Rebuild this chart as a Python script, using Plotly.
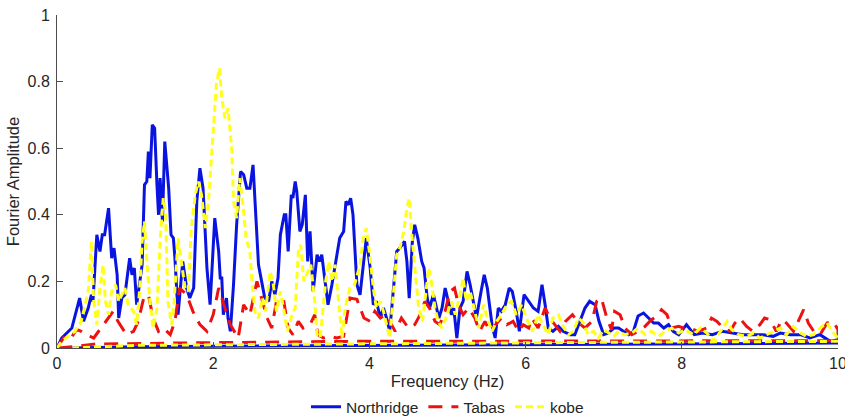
import plotly.graph_objects as go

# ---------------- data ----------------
north_f = [0, 0.06, 0.19, 0.29, 0.34, 0.40, 0.44, 0.46, 0.51, 0.55, 0.58, 0.61, 0.66, 0.70, 0.73, 0.77, 0.79,
           0.83, 0.87, 0.93, 0.96, 0.99, 1.02, 1.06, 1.09, 1.12, 1.15, 1.17, 1.19, 1.22, 1.25, 1.28, 1.30, 1.32,
           1.35, 1.38, 1.43, 1.46, 1.49, 1.51, 1.55, 1.58, 1.61, 1.66, 1.70, 1.75, 1.79, 1.83, 1.87, 1.92, 1.96,
           2.02, 2.07, 2.09, 2.11, 2.13, 2.17, 2.19, 2.22, 2.26, 2.30, 2.35, 2.39, 2.43, 2.47, 2.51, 2.55, 2.58,
           2.62, 2.66, 2.71, 2.75, 2.79, 2.83, 2.86, 2.91, 2.93, 2.96, 3.00, 3.02, 3.05, 3.07, 3.11, 3.14, 3.18,
           3.21, 3.24, 3.28, 3.33, 3.36, 3.39, 3.43, 3.47, 3.52, 3.57, 3.62, 3.67, 3.70, 3.73, 3.76, 3.79, 3.84,
           3.88, 3.93, 3.96, 4.01, 4.05, 4.09, 4.14, 4.18, 4.22, 4.26, 4.31, 4.35, 4.39, 4.45, 4.48, 4.51, 4.55,
           4.58, 4.62, 4.67, 4.70, 4.74, 4.77, 4.82, 4.86, 4.89, 4.93, 4.97, 5.01, 5.05, 5.08, 5.12, 5.16, 5.20,
           5.25, 5.29, 5.33, 5.37, 5.43, 5.47, 5.51, 5.57, 5.61, 5.65, 5.69, 5.74, 5.79, 5.83, 5.88, 5.92, 5.98,
           6.04, 6.10, 6.16, 6.21, 6.25, 6.29, 6.35, 6.42, 6.48, 6.57, 6.63, 6.70, 6.76, 6.82, 6.89, 6.94, 7.00,
           7.06, 7.13, 7.19, 7.26, 7.32, 7.38, 7.44, 7.51, 7.57, 7.64, 7.70, 7.77, 7.83, 7.89, 7.96, 8.06, 8.16,
           8.27, 8.39, 8.52, 8.65, 8.78, 8.91, 9.04, 9.17, 9.26, 9.39, 9.52, 9.64, 9.77, 9.90, 10.0]
north_a = [0, 0.03, 0.06, 0.15, 0.08, 0.12, 0.16, 0.14, 0.34, 0.29, 0.34, 0.34, 0.42, 0.27, 0.30, 0.22, 0.09,
           0.15, 0.16, 0.27, 0.22, 0.24, 0.13, 0.20, 0.25, 0.49, 0.50, 0.59, 0.51, 0.67, 0.66, 0.49, 0.40, 0.51,
           0.38, 0.62, 0.48, 0.34, 0.33, 0.27, 0.10, 0.18, 0.26, 0.18, 0.15, 0.18, 0.44, 0.54, 0.48, 0.24, 0.13,
           0.39, 0.29, 0.21, 0.21, 0.10, 0.15, 0.09, 0.05, 0.19, 0.37, 0.53, 0.52, 0.48, 0.48, 0.55, 0.36, 0.25,
           0.20, 0.15, 0.14, 0.20, 0.16, 0.21, 0.34, 0.40, 0.40, 0.29, 0.46, 0.45, 0.50, 0.47, 0.35, 0.37, 0.46,
           0.26, 0.35, 0.17, 0.28, 0.26, 0.28, 0.20, 0.13, 0.19, 0.26, 0.33, 0.35, 0.44, 0.43, 0.45, 0.40, 0.19,
           0.16, 0.27, 0.33, 0.24, 0.13, 0.14, 0.09, 0.12, 0.09, 0.05, 0.19, 0.29, 0.30, 0.32, 0.26, 0.15, 0.32,
           0.37, 0.33, 0.26, 0.24, 0.15, 0.12, 0.16, 0.12, 0.09, 0.12, 0.18, 0.14, 0.10, 0.12, 0.03, 0.12, 0.14,
           0.23, 0.19, 0.14, 0.09, 0.17, 0.22, 0.18, 0.07, 0.03, 0.12, 0.11, 0.13, 0.18, 0.17, 0.11, 0.05, 0.16,
           0.14, 0.12, 0.11, 0.19, 0.13, 0.06, 0.05, 0.065, 0.05, 0.04, 0.04, 0.08, 0.12, 0.14, 0.13, 0.08, 0.04,
           0.045, 0.06, 0.06, 0.05, 0.04, 0.05, 0.096, 0.105, 0.09, 0.075, 0.075, 0.06, 0.07, 0.05, 0.04, 0.07, 0.04,
           0.045, 0.04, 0.05, 0.045, 0.04, 0.04, 0.04, 0.035, 0.045, 0.04, 0.04, 0.03, 0.04, 0.02, 0.025]
north_ret_f = [10.0, 7.0, 4.0, 1.0, 0.2]
north_ret_a = [0.015, 0.012, 0.007, 0.004, 0.0]

tabas_f = [0, 0.10, 0.18, 0.25, 0.31, 0.38, 0.47, 0.55, 0.64, 0.72, 0.78, 0.89, 0.98, 1.04, 1.11, 1.17, 1.23,
           1.30, 1.36, 1.45, 1.51, 1.57, 1.66, 1.74, 1.83, 1.92, 2.00, 2.07, 2.15, 2.22, 2.32, 2.39, 2.47, 2.56,
           2.62, 2.69, 2.75, 2.81, 2.90, 2.96, 3.02, 3.09, 3.15, 3.24, 3.30, 3.34, 3.41, 3.50, 3.58, 3.67, 3.75,
           3.84, 3.93, 4.01, 4.07, 4.14, 4.20, 4.26, 4.33, 4.41, 4.50, 4.58, 4.65, 4.71, 4.77, 4.84, 4.90, 4.97,
           5.03, 5.09, 5.14, 5.20, 5.27, 5.35, 5.41, 5.48, 5.54, 5.61, 5.69, 5.76, 5.84, 5.91, 5.97, 6.04, 6.08,
           6.16, 6.25, 6.31, 6.38, 6.44, 6.51, 6.60, 6.68, 6.76, 6.85, 6.91, 6.97, 7.04, 7.10, 7.14, 7.21, 7.27,
           7.36, 7.44, 7.53, 7.61, 7.68, 7.74, 7.81, 7.87, 7.96, 8.02, 8.10, 8.21, 8.32, 8.38, 8.45, 8.53, 8.62,
           8.68, 8.74, 8.83, 8.91, 9.00, 9.06, 9.13, 9.21, 9.28, 9.34, 9.43, 9.51, 9.56, 9.62, 9.69, 9.77, 9.86,
           9.94, 10.0]
tabas_a = [0, 0.036, 0.03, 0.056, 0.05, 0.04, 0.03, 0.056, 0.086, 0.11, 0.08, 0.04, 0.05, 0.08, 0.15, 0.16, 0.09,
           0.05, 0.06, 0.04, 0.08, 0.18, 0.16, 0.11, 0.07, 0.05, 0.10, 0.18, 0.12, 0.07, 0.03, 0.13, 0.10, 0.20,
           0.15, 0.09, 0.06, 0.14, 0.146, 0.06, 0.04, 0.08, 0.06, 0.07, 0.10, 0.04, 0.03, 0.035, 0.03, 0.035, 0.15,
           0.146, 0.09, 0.08, 0.11, 0.09, 0.10, 0.08, 0.05, 0.09, 0.06, 0.07, 0.10, 0.14, 0.12, 0.08, 0.07, 0.11,
           0.17, 0.18, 0.13, 0.10, 0.12, 0.09, 0.05, 0.08, 0.05, 0.07, 0.09, 0.07, 0.08, 0.05, 0.07, 0.06, 0.09,
           0.06, 0.12, 0.09, 0.07, 0.05, 0.08, 0.10, 0.075, 0.06, 0.08, 0.14, 0.15, 0.09, 0.055, 0.11, 0.10, 0.06,
           0.04, 0.05, 0.065, 0.085, 0.095, 0.115, 0.10, 0.06, 0.065, 0.06, 0.06, 0.05, 0.06, 0.09, 0.08, 0.06, 0.05,
           0.075, 0.09, 0.065, 0.05, 0.07, 0.09, 0.085, 0.05, 0.085, 0.075, 0.05, 0.09, 0.115, 0.075, 0.05, 0.04, 0.075,
           0.08, 0.055]
tabas_ret_f = [10.0, 7.0, 3.8, 2.0, 0.5, 0.2, 0.0]
tabas_ret_a = [0.022, 0.021, 0.02, 0.016, 0.012, 0.004, 0.0]

kobe_f = [0, 0.06, 0.23, 0.31, 0.40, 0.44, 0.47, 0.51, 0.55, 0.59, 0.62, 0.66, 0.70, 0.75, 0.79, 0.83, 0.87,
          0.91, 0.98, 1.02, 1.06, 1.09, 1.12, 1.15, 1.19, 1.23, 1.28, 1.32, 1.36, 1.39, 1.42, 1.47, 1.50, 1.55,
          1.60, 1.64, 1.68, 1.72, 1.77, 1.81, 1.85, 1.90, 1.94, 2.00, 2.04, 2.08, 2.11, 2.15, 2.19, 2.24, 2.26,
          2.30, 2.34, 2.39, 2.42, 2.47, 2.50, 2.54, 2.58, 2.63, 2.67, 2.73, 2.77, 2.81, 2.86, 2.90, 2.95, 3.01,
          3.05, 3.09, 3.12, 3.16, 3.21, 3.25, 3.30, 3.33, 3.37, 3.44, 3.48, 3.52, 3.56, 3.61, 3.65, 3.69, 3.75,
          3.81, 3.88, 3.92, 3.96, 4.01, 4.05, 4.09, 4.14, 4.18, 4.22, 4.26, 4.31, 4.35, 4.39, 4.44, 4.48, 4.51,
          4.54, 4.58, 4.63, 4.68, 4.72, 4.76, 4.80, 4.84, 4.88, 4.93, 4.98, 5.05, 5.10, 5.16, 5.20, 5.24, 5.29,
          5.34, 5.40, 5.46, 5.51, 5.57, 5.63, 5.69, 5.76, 5.82, 5.88, 5.95, 6.01, 6.09, 6.16, 6.22, 6.29, 6.35,
          6.42, 6.48, 6.55, 6.61, 6.68, 6.74, 6.80, 6.87, 6.93, 7.00, 7.06, 7.13, 7.19, 7.27, 7.36, 7.44, 7.53,
          7.61, 7.70, 7.79, 7.87, 7.96, 8.04, 8.15, 8.24, 8.32, 8.41, 8.49, 8.58, 8.64, 8.73, 8.83, 8.92, 9.00,
          9.09, 9.17, 9.26, 9.34, 9.43, 9.52, 9.60, 9.69, 9.77, 9.86, 9.94, 10.0]
kobe_a = [0, 0.02, 0.05, 0.08, 0.17, 0.32, 0.14, 0.07, 0.18, 0.25, 0.14, 0.10, 0.17, 0.19, 0.14, 0.16, 0.18,
          0.13, 0.11, 0.07, 0.18, 0.32, 0.38, 0.26, 0.14, 0.06, 0.12, 0.32, 0.45, 0.41, 0.14, 0.07, 0.14, 0.33,
          0.24, 0.18, 0.17, 0.36, 0.46, 0.50, 0.46, 0.36, 0.44, 0.64, 0.79, 0.84, 0.75, 0.69, 0.72, 0.59, 0.44,
          0.39, 0.51, 0.41, 0.33, 0.29, 0.19, 0.10, 0.09, 0.15, 0.11, 0.23, 0.19, 0.11, 0.17, 0.12, 0.05, 0.10,
          0.12, 0.29, 0.31, 0.20, 0.23, 0.25, 0.14, 0.04, 0.03, 0.20, 0.26, 0.20, 0.25, 0.12, 0.03, 0.12, 0.18,
          0.19, 0.25, 0.33, 0.36, 0.27, 0.18, 0.12, 0.14, 0.11, 0.07, 0.03, 0.17, 0.28, 0.30, 0.35, 0.42, 0.45,
          0.35, 0.25, 0.12, 0.08, 0.17, 0.24, 0.19, 0.12, 0.08, 0.06, 0.09, 0.14, 0.10, 0.16, 0.21, 0.14, 0.17,
          0.12, 0.06, 0.13, 0.09, 0.05, 0.08, 0.10, 0.13, 0.14, 0.10, 0.13, 0.09, 0.05, 0.10, 0.07, 0.04, 0.09,
          0.10, 0.065, 0.04, 0.05, 0.09, 0.075, 0.04, 0.05, 0.03, 0.055, 0.045, 0.035, 0.05, 0.04, 0.045, 0.06, 0.04,
          0.05, 0.035, 0.05, 0.06, 0.045, 0.055, 0.04, 0.06, 0.045, 0.02, 0.05, 0.08, 0.055, 0.04, 0.035, 0.045, 0.03,
          0.04, 0.05, 0.06, 0.04, 0.065, 0.045, 0.035, 0.04, 0.06, 0.075, 0.045, 0.03]
kobe_ret_f = [10.0, 7.0, 4.0, 1.0, 0.2]
kobe_ret_a = [0.02, 0.017, 0.013, 0.008, 0.0]

series_names = ["Northridge", "Tabas", "kobe"]
x_ticks = [0, 2, 4, 6, 8, 10]
y_ticks = [0, 0.2, 0.4, 0.6, 0.8, 1]

# ---------------- figure ----------------
fig = go.Figure()
specs = [
    (north_f + north_ret_f, north_a + north_ret_a, "#0a14e0", "solid"),
    (tabas_f + tabas_ret_f, tabas_a + tabas_ret_a, "#ee1111", "14px,9px"),
    (kobe_f + kobe_ret_f, kobe_a + kobe_ret_a, "#ffff1a", "7px,4px"),
]
for name, (xs, ys, col, dash) in zip(series_names, specs):
    fig.add_trace(go.Scatter(x=xs, y=ys, mode="lines", name=name,
                             line=dict(color=col, width=3, dash=dash)))

axis_col = "#4d4d4d"
font_col = "#262626"
fig.update_layout(
    width=845, height=420,
    margin=dict(l=57, r=7, t=15, b=72, autoexpand=False),
    plot_bgcolor="white", paper_bgcolor="white",
    font=dict(family="Liberation Sans, Arial, sans-serif", size=16, color=font_col),
    showlegend=True,
    legend=dict(orientation="h", x=0.5, xanchor="center", y=-0.178, yanchor="middle",
                font=dict(size=15.5), itemwidth=30, tracegroupgap=0, bgcolor="rgba(0,0,0,0)"),
    xaxis=dict(range=[0, 10], tickvals=x_ticks, ticktext=[str(v) for v in x_ticks],
               showgrid=False, zeroline=False, showline=True, linecolor=axis_col, linewidth=1,
               ticks="inside", ticklen=6, tickcolor=axis_col, ticklabeloverflow="allow",
               ticklabelstandoff=1, tickfont=dict(size=16), automargin=False,
               title=dict(text="Frequency (Hz)", standoff=4, font=dict(size=16.5))),
    yaxis=dict(range=[0, 1], tickvals=y_ticks, ticktext=["0", "0.2", "0.4", "0.6", "0.8", "1"],
               showgrid=False, zeroline=False, showline=True, linecolor=axis_col, linewidth=1,
               ticks="inside", ticklen=6, tickcolor=axis_col, ticklabelstandoff=3,
               tickfont=dict(size=16), automargin=False,
               title=dict(text="Fourier Amplitude", standoff=3, font=dict(size=16.5))),
)
fig.write_html("out.html")
